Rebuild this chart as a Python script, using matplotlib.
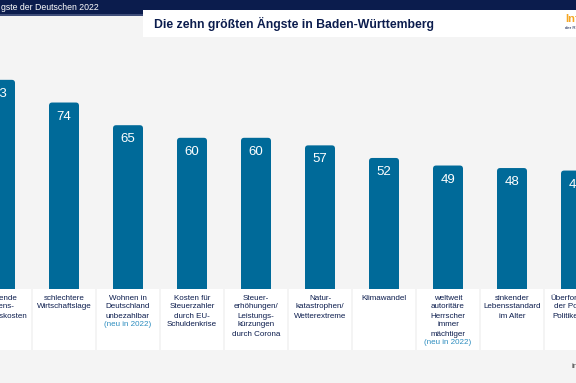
import numpy as np
import matplotlib.pyplot as plt
from matplotlib.patches import FancyBboxPatch, Rectangle
from matplotlib.transforms import blended_transform_factory

plt.rcParams['font.family'] = ['Liberation Sans', 'DejaVu Sans']

# data
fears = ['steigende\nLebens-\nhaltungskosten',
         'schlechtere\nWirtschaftslage',
         'Wohnen in\nDeutschland\nunbezahlbar',
         'Kosten für\nSteuerzahler\ndurch EU-\nSchuldenkrise',
         'Steuer-\nerhöhungen/\nLeistungs-\nkürzungen\ndurch Corona',
         'Natur-\nkatastrophen/\nWetterextreme',
         'Klimawandel',
         'weltweit\nautoritäre\nHerrscher\nimmer\nmächtiger',
         'sinkender\nLebensstandard\nim Alter',
         'Überforderung\nder Politiker/\nPolitikerinnen']
values = [83, 74, 65, 60, 60, 57, 52, 49, 48, 47]
is_new = [False, False, True, False, False, False, False, True, False, False]
new_text = '(neu in 2022)'

title = 'Die zehn größten Ängste in Baden-Württemberg'
header = 'gste der Deutschen 2022'

bar_col = '#006a99'
navy = '#0b1c4d'
teal = '#2b8cbf'
bg = '#f4f4f4'

W, H = 576, 383
fig = plt.figure(figsize=(W / 100, H / 100), dpi=100, facecolor=bg)
ax = fig.add_axes([0, 0, 1, 1])
ax.set_facecolor(bg)

px_per_y = 2.52          # pixels per percent point
base_px = 289            # pixel row of the bar baseline
ax.set_xlim(0, 9)
ax.set_ylim(-(H - base_px) / px_per_y, base_px / px_per_y)
ax.axis('off')

px_per_x = W / 9.0
def fy(p):
    # pixel row -> figure fraction
    return 1 - p / H

tr = blended_transform_factory(ax.transData, fig.transFigure)

# bars with rounded tops
w = 30 / px_per_x
rs = 3.2 / px_per_x
asp = (3.2 / px_per_y) / rs
for i, v in enumerate(values):
    p = FancyBboxPatch((i - w / 2, -4), w, v + 4,
                       boxstyle='round,pad=0,rounding_size=%f' % rs,
                       mutation_aspect=asp, fc=bar_col, ec='none', zorder=2)
    ax.add_patch(p)
    ax.text(i, v - 14 / px_per_y, str(v), color='white', fontsize=9.5,
            ha='center', va='center', zorder=4)

# white label boxes under the bars, one text per line
bw = 62 / px_per_x
fs = 5.8
for i, lab in enumerate(fears):
    ax.add_patch(Rectangle((i - bw / 2, fy(350)), bw, fy(289) - fy(350),
                           transform=tr, fc='white', ec='none', zorder=3))
    lines = lab.split('\n')
    cols = [navy] * len(lines)
    if is_new[i]:
        lines.append(new_text)
        cols.append(teal)
    for k, (ln, c) in enumerate(zip(lines, cols)):
        ax.text(i, fy(298 + k * 9), ln, transform=tr, ha='center',
                va='center', fontsize=fs, color=c, zorder=4)

# header band and title box
fig.patches.append(Rectangle((0, fy(15)), 1, 15 / H, transform=fig.transFigure,
                             fc=navy, ec='none', zorder=5))
fig.patches.append(Rectangle((0, fy(15.5)), 1, 1 / H, transform=fig.transFigure,
                             fc='#3d4c78', ec='none', zorder=5))
fig.patches.append(Rectangle((143 / W, fy(37)), 1, 27 / H, transform=fig.transFigure,
                             fc='white', ec='none', zorder=6))
fig.text(1 / W, fy(7.5), header, color='white', fontsize=6.3, va='center', zorder=7)
fig.text(293.5 / W, fy(23.5), title, color=navy, fontsize=8.8, fontweight='bold',
         ha='center', va='center', zorder=7)
fig.text(565 / W, fy(19), 'Infocenter', color='#f5a623', fontsize=8,
         fontweight='bold', va='center', zorder=7)
fig.text(565 / W, fy(28), 'der R+V Versicherung', color=navy, fontsize=3.2,
         va='center', zorder=7)
fig.text(572 / W, fy(367), 'infocenter', color='#444444', fontsize=6,
         va='center', zorder=7)

fig.savefig('out.png', dpi=100, facecolor=bg)
